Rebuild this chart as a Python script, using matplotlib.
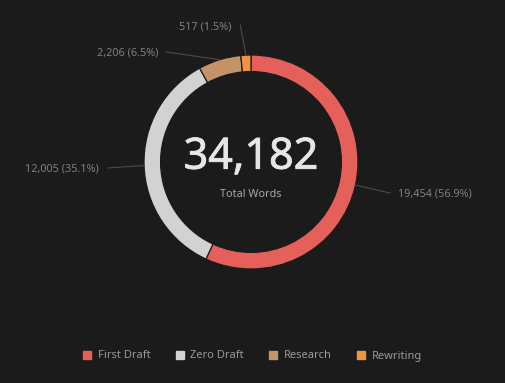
import numpy as np
import matplotlib
matplotlib.use("Agg")
import matplotlib.pyplot as plt
import matplotlib.patheffects as pe
from matplotlib.lines import Line2D

BG = "#1b1b1b"

categories = ["First Draft", "Zero Draft", "Research", "Rewriting"]
words = [19454, 12005, 2206, 517]
colors = ["#e5605a", "#d2d2d2", "#c49468", "#ef9440"]
center_label = "Total Words"

# where each outside label goes (data units, ring radius = 1)
label_pos = [(1.37, -0.30), (-1.42, -0.065), (-0.87, 1.02), (-0.18, 1.26)]
label_ha = ["left", "right", "right", "right"]
elbow = [(1.30, -0.29), (-1.34, -0.056), (-0.80, 1.03), (-0.10, 1.28)]

plt.rcParams["font.family"] = ["Noto Sans", "DejaVu Sans"]

W, H = 505, 383
fig = plt.figure(figsize=(W / 100, H / 100), dpi=100, facecolor=BG)

cx, cy, r = 251, 162, 107
half = r * 1.25
ax = fig.add_axes([(cx - half) / W, (H - cy - half) / H, 2 * half / W, 2 * half / H])
ax.set_facecolor(BG)

wedges, _ = ax.pie(
    words,
    colors=colors,
    startangle=90,
    counterclock=False,
    radius=1.0,
    wedgeprops=dict(width=0.155, edgecolor=BG, linewidth=0.9),
)
ax.set_xlim(-1.25, 1.25)
ax.set_ylim(-1.25, 1.25)
ax.set_aspect("equal")
ax.axis("off")

total = sum(words)
for w, val, pos, ha, el in zip(wedges, words, label_pos, label_ha, elbow):
    mid = np.deg2rad((w.theta1 + w.theta2) / 2)
    x0, y0 = np.cos(mid), np.sin(mid)
    ax.plot([x0, el[0]], [y0, el[1]], color="#4a4a4a", lw=0.8, clip_on=False)
    ax.text(pos[0], pos[1], f"{val:,} ({val / total * 100:.1f}%)", ha=ha, va="center",
            color="#808080", fontsize=7.8, clip_on=False)

# fake a medium weight with a thin stroke of the same colour
ax.text(0, 0.04, f"{total:,}", ha="center", va="center", color="#e6e6e6",
        fontsize=31,
        path_effects=[pe.withStroke(linewidth=0.6, foreground="#e6e6e6")])
ax.text(0, -0.30, center_label, ha="center", va="center", color="#a8a8a8",
        fontsize=7.8)

handles = [Line2D([], [], marker="s", linestyle="none", markersize=6,
                  markerfacecolor=c, markeredgecolor=c) for c in colors]
leg = fig.legend(handles, categories, loc="center", bbox_to_anchor=(0.5, 1 - 356 / H),
                 ncol=4, frameon=False, fontsize=8, labelcolor="#9a9a9a",
                 handlelength=0.7, handletextpad=0.6, columnspacing=2.3)

fig.savefig("out.png", dpi=100, facecolor=BG)
